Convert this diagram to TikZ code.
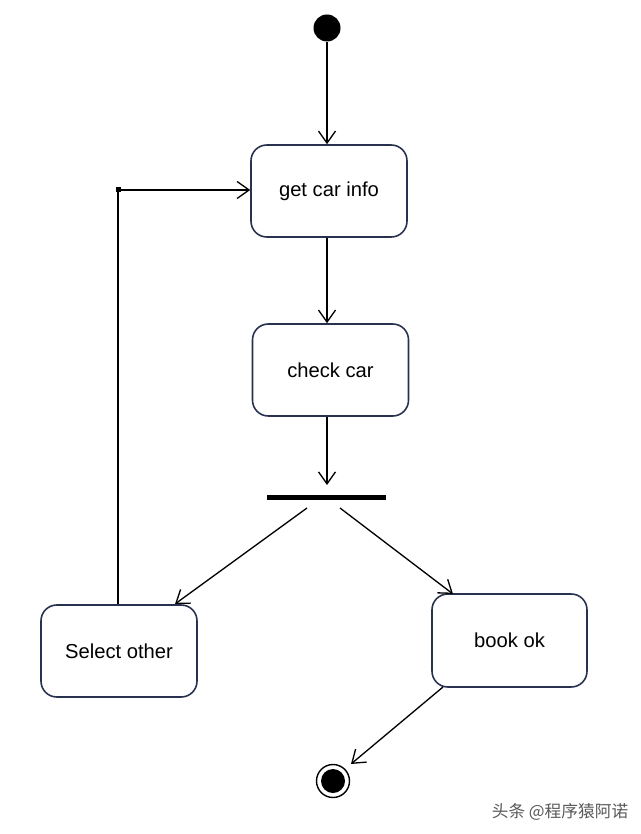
\documentclass[tikz,border=0pt]{standalone}
\usepackage{fontspec}
\setmainfont{Liberation Sans}
\newfontfamily\cjk{Noto Sans CJK SC}
\usetikzlibrary{arrows.meta}
\definecolor{boxline}{HTML}{28324F}
\tikzset{
  statebox/.style={draw=boxline, line width=0.9pt, rounded corners=9pt, minimum width=156*0.02cm, minimum height=92*0.02cm, font=\fontsize{11.5}{14}\selectfont, inner sep=0pt},
  flow/.style={draw=black, line width=0.75pt, -{Straight Barb[length=2.4mm,width=3.4mm,line width=0.75pt]}},
  plain/.style={draw=black, line width=0.75pt}
}
\begin{document}
\begin{tikzpicture}[x=0.02cm,y=-0.02cm]
\useasboundingbox[fill=white] (0,0) rectangle (640,834);
\node[circle, fill=black, minimum size=27*0.02cm, inner sep=0pt] (init) at (327,28) {};
\node[statebox] (get) at (329,191) {get car info};
\node[statebox] (check) at (330.5,370) {check car};
\node[fill=black, minimum width=119*0.02cm, minimum height=5*0.02cm, inner sep=0pt] (fork) at (326.5,497) {};
\node[statebox] (sel) at (119,651) {Select other};
\node[statebox, minimum width=155*0.02cm, minimum height=93*0.02cm] (book) at (509.5,640.5) {book ok};
\node[circle, draw=black, line width=0.8pt, minimum size=33*0.02cm, inner sep=0pt] (final) at (333,781) {};
\node[circle, fill=black, minimum size=24*0.02cm, inner sep=0pt] at (final) {};
\coordinate (f1) at (307,508);
\coordinate (f2) at (340,508);
\coordinate (b1) at (443,687);
\coordinate (bend) at (118,190);
\draw[flow] (init.south) -- (get.north -| init);
\draw[flow] (get.south -| init) -- (check.north -| init);
\draw[flow] (check.south -| init) -- (327,485);
\draw[flow] (f1) -- (175,604);
\draw[flow] (f2) -- (453,594);
\draw[flow] (b1) -- (351,764);
\draw[plain] (sel.north -| bend) -- (bend);
\draw[flow] (bend) -- (get.west |- bend);
\fill[black] (bend) ++(-2.5,-2.5) rectangle ++(5,5);
\node[text=black!65, font=\cjk\fontsize{9.5}{11}\selectfont, anchor=center] (wm) at (560,812) {头条 @程序猿阿诺};
\end{tikzpicture}
\end{document}
